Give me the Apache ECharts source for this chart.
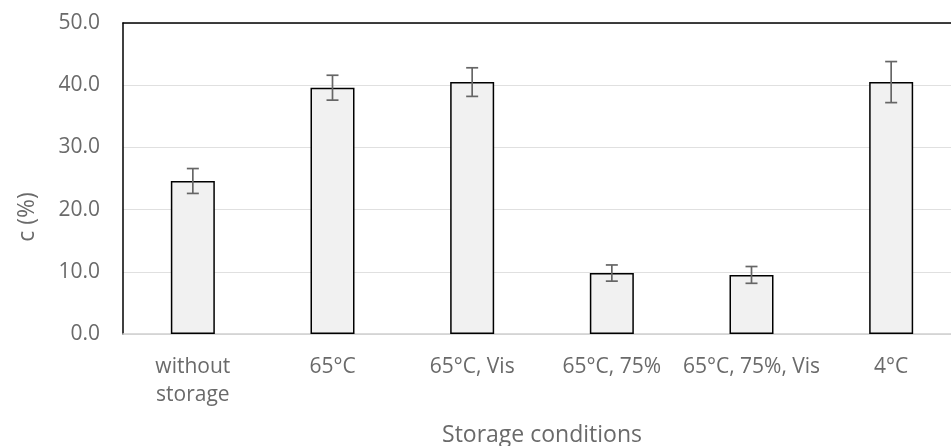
<!DOCTYPE html>
<html>
<head>
<meta charset="utf-8">
<script src="https://cdn.jsdelivr.net/npm/echarts@6/dist/echarts.min.js"></script>
<style>
html,body{margin:0;padding:0;background:#fff;}
#chart{width:951px;height:446px;}
</style>
</head>
<body>
<div id="chart"></div>
<script>
const categories = ['without\nstorage', '65°C', '65°C, Vis', '65°C, 75%', '65°C, 75%, Vis', '4°C'];
const values = [24.6, 39.6, 40.5, 9.8, 9.5, 40.5];
const errors = [2.0, 2.0, 2.3, 1.3, 1.35, 3.3];
const yTicks = [0, 10, 20, 30, 40, 50];
const xTitle = 'Storage conditions';
const yTitle = 'c (%)';

const FONT = 'Open Sans';
const TXT = '#6a6a6a';

const chart = echarts.init(document.getElementById('chart'), null, {renderer: 'canvas'});

const errData = values.map((v, i) => [i, v - errors[i], v + errors[i]]);

chart.setOption({
  animation: false,
  backgroundColor: '#ffffff',
  grid: {left: 123, top: 23, width: 838, height: 311, containLabel: false, outerBoundsMode: 'none'},
  xAxis: [{
    type: 'category',
    data: categories,
    position: 'bottom',
    axisLine: {show: true, lineStyle: {color: '#d0d0d0', width: 1.5}},
    axisTick: {show: false},
    axisLabel: {color: TXT, fontFamily: FONT, fontSize: 21, lineHeight: 28, margin: 19, interval: 0}
  }, {
    type: 'category',
    data: categories,
    position: 'top',
    axisLine: {show: true, onZero: false, lineStyle: {color: '#000000', width: 1.5}},
    axisTick: {show: false},
    axisLabel: {show: false}
  }],
  yAxis: {
    type: 'value',
    min: yTicks[0],
    max: yTicks[yTicks.length - 1],
    interval: 10,
    axisLine: {show: true, lineStyle: {color: '#000000', width: 1.5}},
    axisTick: {show: false},
    splitLine: {show: true, lineStyle: {color: '#e0e0e0', width: 1.2}},
    axisLabel: {color: TXT, fontFamily: FONT, fontSize: 21, margin: 23, formatter: v => v.toFixed(1)}
  },
  graphic: [{
    type: 'text',
    x: 27, y: 217,
    rotation: Math.PI / 2,
    style: {text: yTitle, fill: TXT, font: '23px "Open Sans"', textAlign: 'center', textVerticalAlign: 'middle'}
  }, {
    type: 'text',
    x: 542, y: 435,
    style: {text: xTitle, fill: TXT, font: '23px "Open Sans"', textAlign: 'center', textVerticalAlign: 'middle'}
  }],
  series: [{
    type: 'bar',
    data: values,
    barWidth: 44,
    itemStyle: {color: '#f1f1f1', borderColor: '#000000', borderWidth: 1.5},
    z: 2
  }, {
    type: 'custom',
    data: errData,
    z: 3,
    renderItem: function (params, api) {
      const i = api.value(0);
      const lo = api.coord([i, api.value(1)]);
      const hi = api.coord([i, api.value(2)]);
      const hw = 6;
      const style = {stroke: '#666666', lineWidth: 1.7, fill: null};
      return {
        type: 'group',
        children: [
          {type: 'line', shape: {x1: hi[0], y1: hi[1], x2: lo[0], y2: lo[1]}, style: style},
          {type: 'line', shape: {x1: hi[0] - hw, y1: hi[1], x2: hi[0] + hw, y2: hi[1]}, style: style},
          {type: 'line', shape: {x1: lo[0] - hw, y1: lo[1], x2: lo[0] + hw, y2: lo[1]}, style: style}
        ]
      };
    }
  }]
});
</script>
</body>
</html>
